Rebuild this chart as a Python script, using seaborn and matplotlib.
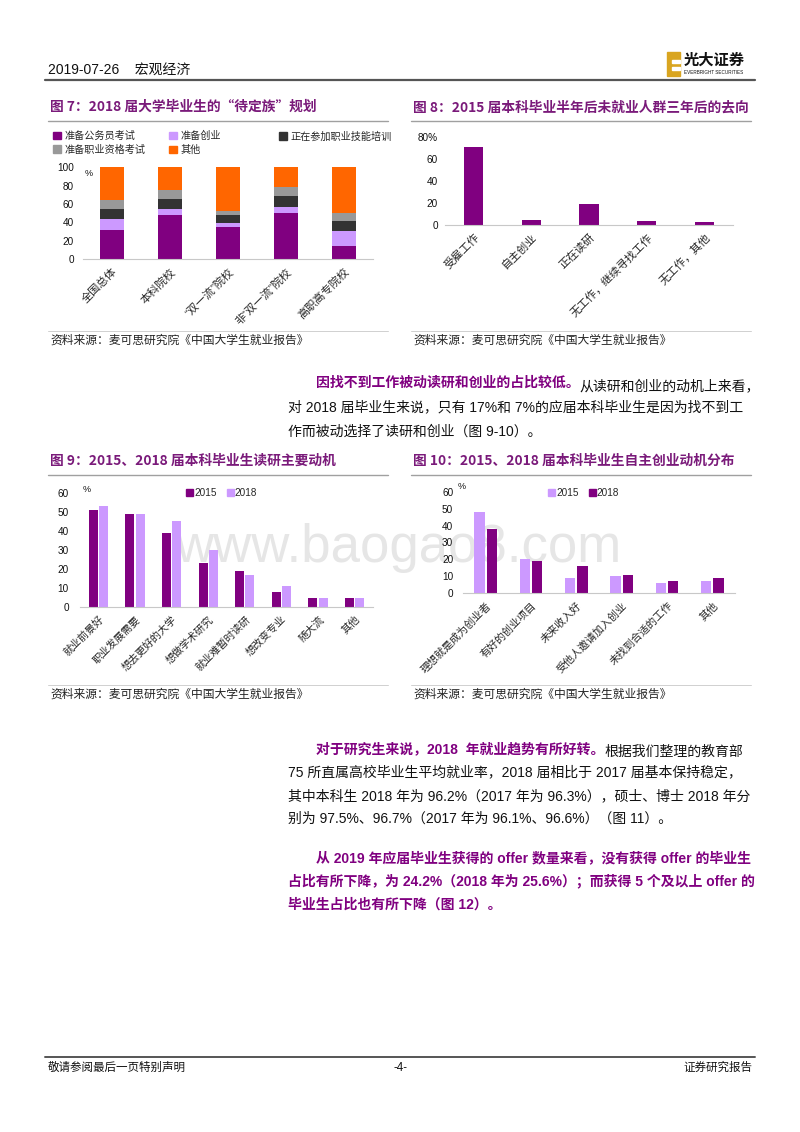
import numpy as np
import pandas as pd
import matplotlib
matplotlib.use("Agg")
from matplotlib import pyplot as plt
from matplotlib.patches import Patch, Rectangle
from matplotlib.lines import Line2D
from matplotlib.text import Annotation
import seaborn as sns

# ---- data ----
cats7 = ["全国总体", "本科院校", "“双一流”院校", "非“双一流”院校", "高职高专院校"]
layers7 = ["准备公务员考试", "准备创业", "正在参加职业技能培训", "准备职业资格考试", "其他"]
gwy7 = [32, 48, 35, 50, 15]
cy7 = [12, 7, 5, 7, 16]
px7 = [11, 11, 8, 12, 11]
zg7 = [9, 9, 5, 10, 8]
qt7 = [36, 25, 47, 21, 50]

cats8 = ["受雇工作", "自主创业", "正在读研", "无工作，继续寻找工作", "无工作，其他"]
vals8 = [71, 4.5, 19, 3.3, 3]

cats9 = ["就业前景好", "职业发展需要", "想去更好的大学", "想做学术研究",
         "就业难暂时读研", "想改变专业", "随大流", "其他"]
y2015_9 = [51, 49, 39, 23, 19, 8, 5, 5]
y2018_9 = [53, 49, 45, 30, 17, 11, 5, 5]

cats10 = ["理想就是成为创业者", "有好的创业项目", "未来收入好",
          "受他人邀请加入创业", "未找到合适的工作", "其他"]
y2015_10 = [48, 20, 9, 10, 6, 7]
y2018_10 = [38, 19, 16, 11, 7.5, 9]

PURPLE = "#800080"
LAV = "#CC99FF"
BLACK = "#333333"
GRAY = "#999999"
ORANGE = "#FF6600"
TITLE = "#7A1A7A"

sns.set_style("white")
plt.rcParams['font.family'] = ['Liberation Sans', 'Noto Sans CJK SC', 'DejaVu Sans']
plt.rcParams['axes.unicode_minus'] = False

W, H = 800, 1132
fig = plt.figure(figsize=(W / 100, H / 100), dpi=100)


def box(x0, y0, x1, y1):
    return [x0 / W, 1 - y1 / H, (x1 - x0) / W, (y1 - y0) / H]


def ftext(x, y, s, **kw):
    kw.setdefault('va', 'center')
    return fig.text(x / W, 1 - y / H, s, **kw)


def hline(x0, x1, y, color, lw):
    fig.add_artist(Line2D([x0 / W, x1 / W], [1 - y / H, 1 - y / H], color=color, lw=lw))


def style_ax(ax, ymax, step, n, ypad, xsize=7.6):
    ax.set_facecolor('none')
    ax.set_ylim(0, ymax)
    ax.set_yticks(np.arange(0, ymax + 1, step))
    ax.set_xlim(-0.5, n - 0.5)
    for s in ['top', 'right', 'left']:
        ax.spines[s].set_visible(False)
    ax.spines['bottom'].set_color('#c8c8c8')
    ax.spines['bottom'].set_linewidth(0.8)
    ax.tick_params(axis='y', length=0, labelsize=7.2, pad=ypad, colors='#111111')
    ax.set_xticks(np.arange(-0.5, n), minor=True)
    ax.tick_params(axis='x', which='minor', direction='in', length=3, color='#c8c8c8', width=0.8)
    ax.tick_params(axis='x', which='major', length=0, pad=5)
    for lab in ax.get_xticklabels():
        lab.set_rotation(45)
        lab.set_ha('right')
        lab.set_rotation_mode('anchor')
        lab.set_fontsize(xsize)
    ax.set_xlabel('')
    ax.set_ylabel('')


# watermark
ftext(398, 548, "www.baogao8.com", ha='center', fontsize=38, color='#e6e6e6', zorder=-1,
      family=['Liberation Sans'])

# ---- header / footer ----
ftext(48, 70, "2019-07-26    宏观经济", fontsize=10, color='#111111')
hline(45, 755, 80, '#555555', 1.6)
fig.add_artist(Rectangle((667 / W, 1 - 76 / H), 13 / W, 24 / H, color='#D9A520', transform=fig.transFigure))
fig.add_artist(Rectangle((672 / W, 1 - 63 / H), 8 / W, 3 / H, color='white', transform=fig.transFigure))
fig.add_artist(Rectangle((672 / W, 1 - 70 / H), 8 / W, 3 / H, color='white', transform=fig.transFigure))
ftext(684, 60, "光大证券", fontsize=11, weight='bold', color='#111111', family=['Noto Sans CJK SC'])
ftext(684, 72, "EVERBRIGHT SECURITIES", fontsize=3.3, color='#111111')
hline(45, 755, 1057, '#555555', 1.4)
ftext(48, 1068, "敬请参阅最后一页特别声明", fontsize=8.3, color='#111111')
ftext(400, 1068, "-4-", fontsize=8.3, ha='center', color='#111111')
ftext(752, 1068, "证券研究报告", fontsize=8.3, ha='right', color='#111111')

# ---- titles, rules, sources ----
titles = [
    (50, 107, "图 7：2018 届大学毕业生的“待定族”规划"),
    (413, 107, "图 8：2015 届本科毕业半年后未就业人群三年后的去向"),
    (50, 461, "图 9：2015、2018 届本科毕业生读研主要动机"),
    (413, 461, "图 10：2015、2018 届本科毕业生自主创业动机分布"),
]
for x, y, t in titles:
    ftext(x, y, t, fontsize=9.9, weight='bold', color=TITLE, family=['Noto Sans CJK SC'])
    hline(x - 2, x + 338, y + 14, '#a0a0a0', 1.0)
for x, y in [(50, 331), (413, 331), (50, 685), (413, 685)]:
    hline(x - 2, x + 338, y, '#d0d0d0', 0.7)
    ftext(x, y + 9, "资料来源：麦可思研究院《中国大学生就业报告》", fontsize=8.5, color='#222222',
          family=['Noto Sans CJK SC'])

# ---- Fig 7: stacked bars ----
ax7 = fig.add_axes(box(83, 167.3, 373, 259.3))
stack = np.array([gwy7, cy7, px7, zg7, qt7], dtype=float)
cum = np.cumsum(stack, axis=0)
cols7 = [PURPLE, LAV, BLACK, GRAY, ORANGE]
for i in reversed(range(len(layers7))):
    sns.barplot(x=cats7, y=cum[i], color=cols7[i], width=0.41, saturation=1,
                linewidth=0, ax=ax7)
style_ax(ax7, 100, 20, len(cats7), 6.5, xsize=8)
ftext(85, 173, "%", fontsize=6.5, color='#111111')
h7 = [Patch(color=c) for c in cols7]
leg_kw = dict(frameon=False, fontsize=7.3, handlelength=0.75, handleheight=0.75,
              handletextpad=0.35, labelspacing=0.35, borderpad=0, borderaxespad=0)
fig.legend([h7[0], h7[3], h7[1], h7[4]], [layers7[0], layers7[3], layers7[1], layers7[4]],
           loc='upper left', bbox_to_anchor=(53 / W, 1 - 131 / H), ncol=2,
           columnspacing=2.4, **leg_kw)
fig.legend([h7[2]], [layers7[2]], loc='upper left', bbox_to_anchor=(279 / W, 1 - 131 / H), **leg_kw)

# ---- Fig 8 ----
ax8 = fig.add_axes(box(445, 137.3, 733, 225))
sns.barplot(x=cats8, y=vals8, color=PURPLE, width=0.33, saturation=1, linewidth=0, ax=ax8)
style_ax(ax8, 80, 20, len(cats8), 5, xsize=8)
ax8.set_yticklabels(["0", "20", "40", "60", "80%"])

# ---- Fig 9 ----
df9 = pd.DataFrame({"cat": cats9 * 2,
                    "year": ["2015"] * len(cats9) + ["2018"] * len(cats9),
                    "val": y2015_9 + y2018_9})
ax9 = fig.add_axes(box(80, 492.7, 373, 607.3))
sns.barplot(data=df9, x="cat", y="val", hue="year", palette={"2015": PURPLE, "2018": LAV},
            width=0.56, gap=0.12, saturation=1, linewidth=0, errorbar=None, legend=False, ax=ax9)
style_ax(ax9, 60, 10, len(cats9), 8, xsize=7.5)
ftext(83, 490, "%", fontsize=6.5, color='#111111')
fig.legend([Patch(color=PURPLE), Patch(color=LAV)], ["2015", "2018"], loc='center left',
           bbox_to_anchor=(186 / W, 1 - 493 / H), ncol=2, frameon=False, fontsize=7.2,
           handlelength=0.7, handleheight=0.7, handletextpad=0.1, columnspacing=1.0,
           borderpad=0, borderaxespad=0)

# ---- Fig 10 ----
df10 = pd.DataFrame({"cat": cats10 * 2,
                     "year": ["2015"] * len(cats10) + ["2018"] * len(cats10),
                     "val": y2015_10 + y2018_10})
ax10 = fig.add_axes(box(463, 491.7, 735, 593.3))
sns.barplot(data=df10, x="cat", y="val", hue="year", palette={"2015": LAV, "2018": PURPLE},
            width=0.53, gap=0.14, saturation=1, linewidth=0, errorbar=None, legend=False, ax=ax10)
style_ax(ax10, 60, 10, len(cats10), 7, xsize=7.6)
ftext(458, 487, "%", fontsize=6.5, color='#111111')
fig.legend([Patch(color=LAV), Patch(color=PURPLE)], ["2015", "2018"], loc='center left',
           bbox_to_anchor=(548 / W, 1 - 493 / H), ncol=2, frameon=False, fontsize=7.2,
           handlelength=0.7, handleheight=0.7, handletextpad=0.1, columnspacing=1.0,
           borderpad=0, borderaxespad=0)

# ---- body text ----
BODY = 10


def para_line(x, y, parts):
    prev = None
    for s, bold in parts:
        kw = dict(fontsize=BODY, color=PURPLE if bold else '#111111',
                  weight='bold' if bold else 'normal', va='baseline')
        if prev is None:
            prev = fig.text(x / W, 1 - y / H, s, **kw)
        else:
            prev = fig.add_artist(Annotation(s, xy=(1, 0), xycoords=prev, **kw))


para_line(316, 387, [("因找不到工作被动读研和创业的占比较低。", True), ("从读研和创业的动机上来看，", False)])
para_line(288, 411, [("对 2018 届毕业生来说，只有 17%和 7%的应届本科毕业生是因为找不到工", False)])
para_line(288, 436, [("作而被动选择了读研和创业（图 9-10）。", False)])

para_line(316, 753, [("对于研究生来说，2018  年就业趋势有所好转。", True), ("根据我们整理的教育部", False)])
para_line(288, 776, [("75 所直属高校毕业生平均就业率，2018 届相比于 2017 届基本保持稳定，", False)])
para_line(288, 800, [("其中本科生 2018 年为 96.2%（2017 年为 96.3%），硕士、博士 2018 年分", False)])
para_line(288, 823, [("别为 97.5%、96.7%（2017 年为 96.1%、96.6%）（图 11）。", False)])

para_line(316, 862, [("从 2019 年应届毕业生获得的 offer 数量来看，没有获得 offer 的毕业生", True)])
para_line(288, 885, [("占比有所下降，为 24.2%（2018 年为 25.6%）；而获得 5 个及以上 offer 的", True)])
para_line(288, 909, [("毕业生占比也有所下降（图 12）。", True)])

fig.savefig("out.png", dpi=100)
